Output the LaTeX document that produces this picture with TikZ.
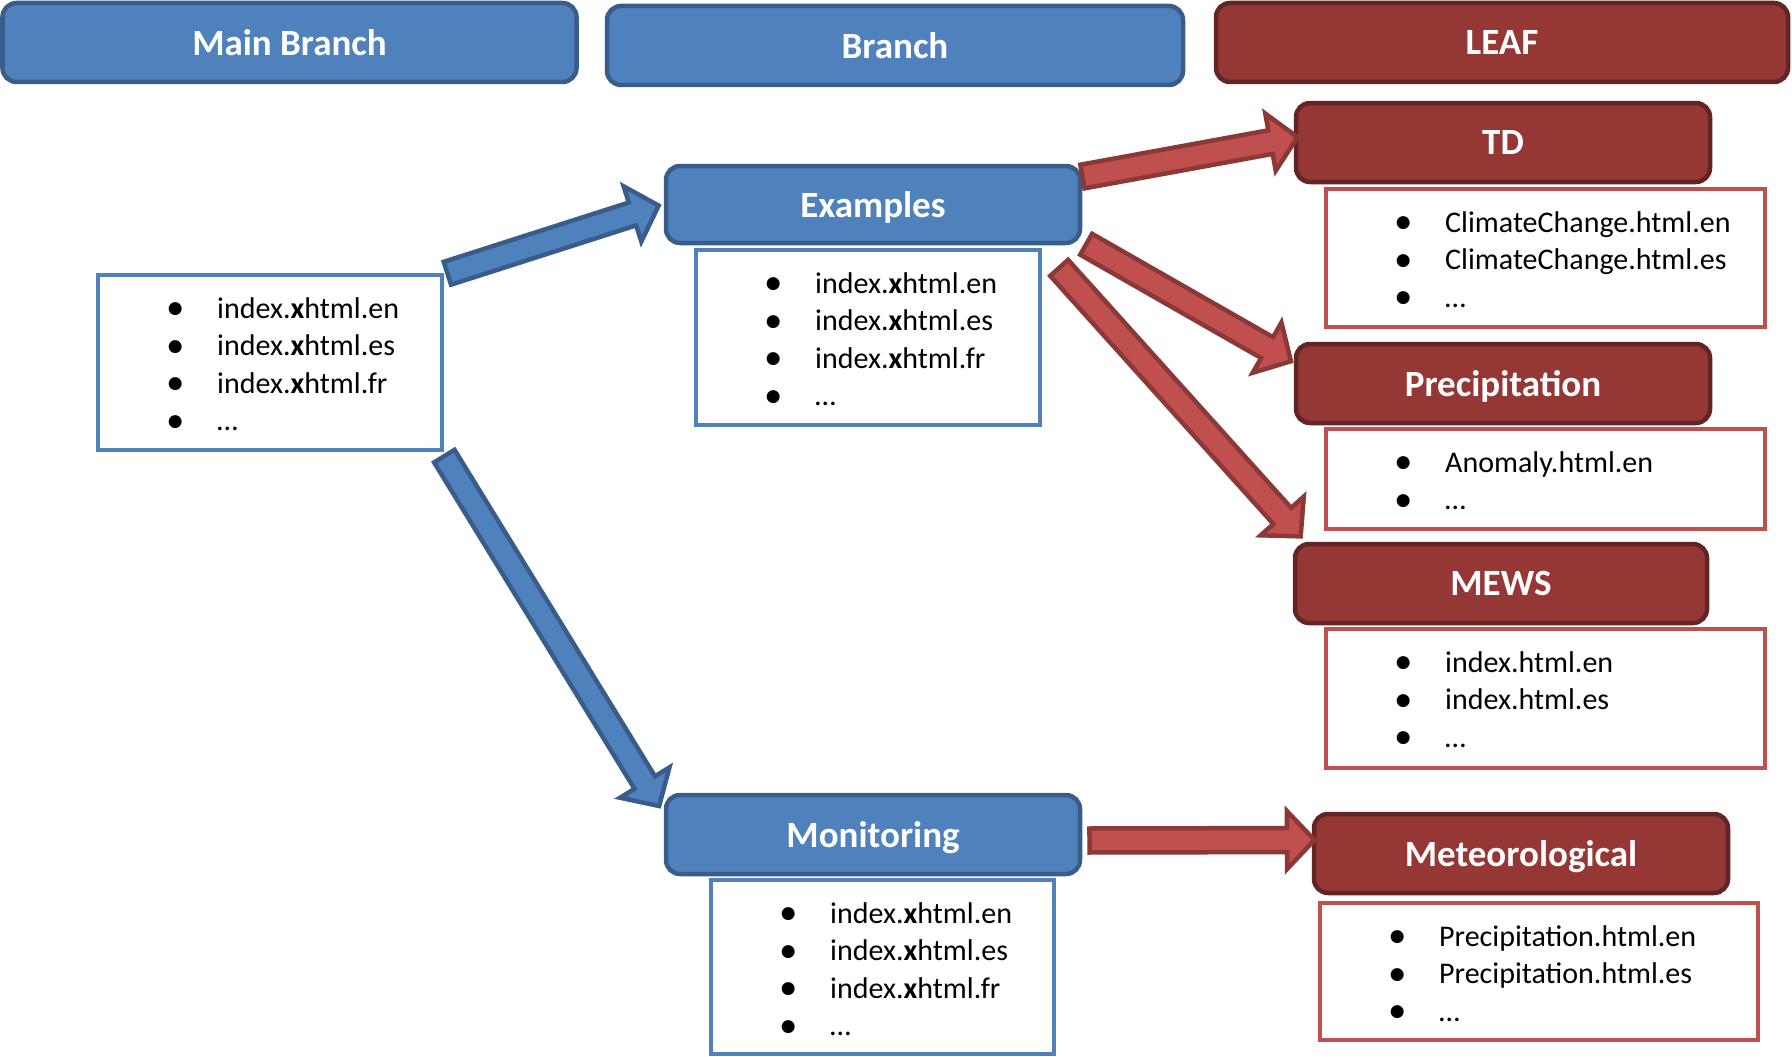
\documentclass[tikz,border=0pt]{standalone}
\usepackage{fontspec}
\setmainfont{Carlito}
\newfontfamily\bulletfont{DejaVu Sans}
\usetikzlibrary{calc}
\definecolor{blueFill}{HTML}{4F81BD}
\definecolor{blueLine}{HTML}{385D8A}
\definecolor{leafFill}{HTML}{953735}
\definecolor{leafLine}{HTML}{632523}
\definecolor{redFill}{HTML}{C0504D}
\definecolor{redLine}{HTML}{8C3836}
\newcommand\itm{\par\noindent\llap{\makebox[84pt]{\raisebox{4.5pt}{\bulletfont\fontsize{17}{17}\selectfont ●}}}}
\newcommand\blockarrow[3]{%
  \path let \p1=($(#3)-(#2)$) in \pgfextra{%
    \pgfmathsetmacro\baang{atan2(\y1,\x1)}%
    \pgfmathsetmacro\balen{veclen(\x1,\y1)}%
    \global\let\baangG\baang\global\let\balenG\balen};
  \begin{scope}[shift={(#2)},rotate=\baangG]
    \draw[#1] (2.5pt,12pt) -- ({\balenG pt-31pt},12pt) -- ({\balenG pt-31pt},29pt)
      -- ({\balenG pt-3.5pt},0pt) -- ({\balenG pt-31pt},-29pt) -- ({\balenG pt-31pt},-12pt)
      -- (2.5pt,-12pt) -- cycle;
  \end{scope}}
\tikzset{
  head/.style={line width=4.5pt, rounded corners=14pt, text=white, outer sep=0pt,
    font=\fontsize{37}{44}\selectfont\bfseries, text depth=0pt},
  bluehead/.style={head, draw=blueLine, fill=blueFill},
  leafhead/.style={head, draw=leafLine, fill=leafFill},
  listbox/.style={line width=4pt, fill=white, outer sep=0pt, anchor=north west},
  bluelist/.style={listbox, draw=blueFill},
  redlist/.style={listbox, draw=redFill},
  listtext/.style={anchor=base west, inner sep=0pt, font=\fontsize{30}{37.5}\selectfont},
  bluearrow/.style={fill=blueFill, draw=blueLine, line width=4.5pt},
  redarrow/.style={fill=redFill, draw=redLine, line width=4.5pt},
}
\begin{document}
\begin{tikzpicture}[x=1pt,y=-1pt]
\useasboundingbox (0,0) rectangle (1792,1057);
% headers
\node[bluehead, minimum width=574, minimum height=79] (mainbranch) at (289.5,42.5) {Main Branch};
\node[bluehead, minimum width=576, minimum height=79] (branch) at (895,45.5) {Branch};
\node[leafhead, minimum width=572, minimum height=79] (leaf) at (1502,42.5) {LEAF};
% branch boxes
\node[bluehead, minimum width=414, minimum height=77] (examples) at (873,204.5) {Examples};
\node[bluehead, minimum width=414, minimum height=79] (monitoring) at (873,834.5) {Monitoring};
% leaf boxes
\node[leafhead, minimum width=414, minimum height=79] (td) at (1503,142.5) {TD};
\node[leafhead, minimum width=414, minimum height=79] (precip) at (1503,383.5) {Precipitation};
\node[leafhead, minimum width=412, minimum height=79] (mews) at (1501,583.5) {MEWS};
\node[leafhead, minimum width=414, minimum height=79] (meteo) at (1521,853.5) {Meteorological};
% list boxes
\node[bluelist, minimum width=344, minimum height=175] (mainlist) at (98,275) {};
\node[bluelist, minimum width=344, minimum height=175] (exlist) at (696,250) {};
\node[bluelist, minimum width=343, minimum height=174] (monlist) at (711,880) {};
\node[redlist, minimum width=439, minimum height=138] (tdlist) at (1326,189) {};
\node[redlist, minimum width=439, minimum height=100] (prlist) at (1326,429) {};
\node[redlist, minimum width=439, minimum height=139] (mewslist) at (1326,629) {};
\node[redlist, minimum width=438, minimum height=137] (metlist) at (1320,903) {};
% list texts
\node[listtext] (mainlistT) at ($(mainlist.north west)+(119,43)$) {\parbox[t]{400pt}{%
  \itm index.\textbf{x}html.en\itm index.\textbf{x}html.es\itm index.\textbf{x}html.fr\itm …}};
\node[listtext] (exlistT) at ($(exlist.north west)+(119,43)$) {\parbox[t]{400pt}{%
  \itm index.\textbf{x}html.en\itm index.\textbf{x}html.es\itm index.\textbf{x}html.fr\itm …}};
\node[listtext] (monlistT) at ($(monlist.north west)+(119,43)$) {\parbox[t]{400pt}{%
  \itm index.\textbf{x}html.en\itm index.\textbf{x}html.es\itm index.\textbf{x}html.fr\itm …}};
\node[listtext] (tdlistT) at ($(tdlist.north west)+(119,43)$) {\parbox[t]{400pt}{%
  \itm ClimateChange.html.en\itm ClimateChange.html.es\itm …}};
\node[listtext] (prlistT) at ($(prlist.north west)+(119,43)$) {\parbox[t]{400pt}{%
  \itm Anomaly.html.en\itm …}};
\node[listtext] (mewslistT) at ($(mewslist.north west)+(119,43)$) {\parbox[t]{400pt}{%
  \itm index.html.en\itm index.html.es\itm …}};
\node[listtext] (metlistT) at ($(metlist.north west)+(119,43)$) {\parbox[t]{400pt}{%
  \itm Precipitation.html.en\itm Precipitation.html.es\itm …}};
% arrow end points
\coordinate (a1s) at ($(mainlist.north east)+(3,-1)$);
\coordinate (a1t) at ($(examples.west)+(-4,0)$);
\coordinate (a2s) at ($(mainlist.south east)+(1,4)$);
\coordinate (a2t) at ($(monitoring.north west)+(-5,14)$);
\coordinate (a3s) at ($(examples.north east)+(0,11)$);
\coordinate (a3t) at ($(td.west)+(5,-6)$);
\coordinate (a4s) at ($(examples.south east)+(4,0)$);
\coordinate (a4t) at ($(precip.north west)+(-2,19)$);
\coordinate (a5s) at ($(exlist.north east)+(17.5,16)$);
\coordinate (a5t) at ($(mews.north west)+(8,-5)$);
\coordinate (a6s) at ($(monitoring.east)+(7,6)$);
\coordinate (a6t) at ($(meteo.west)+(4,-13.5)$);
% arrows
\blockarrow{bluearrow}{a1s}{a1t}
\blockarrow{bluearrow}{a2s}{a2t}
\blockarrow{redarrow}{a3s}{a3t}
\blockarrow{redarrow}{a4s}{a4t}
\blockarrow{redarrow}{a5s}{a5t}
\blockarrow{redarrow}{a6s}{a6t}
\end{tikzpicture}
\end{document}
